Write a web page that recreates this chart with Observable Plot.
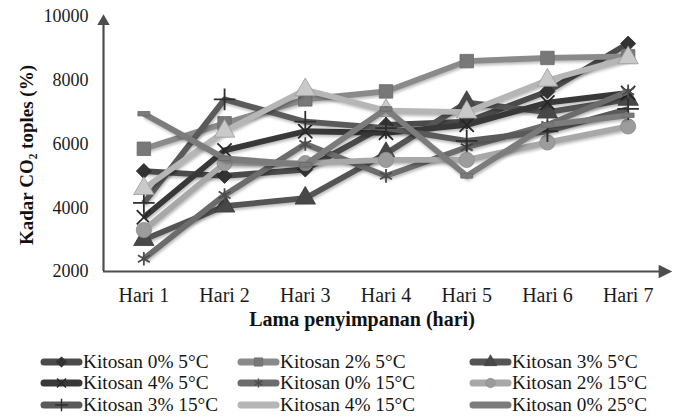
<!DOCTYPE html>
<html>
<head>
<meta charset="utf-8">
<script src="https://cdn.jsdelivr.net/npm/d3@7"></script>
<script src="https://cdn.jsdelivr.net/npm/@observablehq/plot@0.6"></script>
<style>
  html, body { margin: 0; padding: 0; background: #fff; }
  #wrap { width: 678px; height: 418px; position: relative; font-family: "Liberation Serif", "Times New Roman", serif; overflow: hidden; }
  #legend { position: relative; width: 678px; height: 78px; }
  .item { position: absolute; display: flex; align-items: center; font-size: 19.3px; color: #151515; white-space: nowrap; }
  .item svg { display: block; }
  .series-line { filter: drop-shadow(1px 2px 1.5px rgba(0,0,0,0.28)); }
</style>
</head>
<body>
<div id="wrap">
  <div id="chart"></div>
  <div id="legend"></div>
</div>
<script>
// ---- data ----
const days = ["Hari 1", "Hari 2", "Hari 3", "Hari 4", "Hari 5", "Hari 6", "Hari 7"];
const seriesNames = [
  "Kitosan 0% 5°C", "Kitosan 2% 5°C", "Kitosan 3% 5°C",
  "Kitosan 4% 5°C", "Kitosan 0% 15°C", "Kitosan 2% 15°C",
  "Kitosan 3% 15°C", "Kitosan 4% 15°C", "Kitosan 0% 25°C"
];
const k0_5  = [5150, 5000, 5200, 6600, 6700, 7650, 9150];
const k2_5  = [5850, 6650, 7400, 7650, 8600, 8700, 8750];
const k3_5  = [3000, 4050, 4300, 5700, 7300, 7000, 7400];
const k4_5  = [3700, 5800, 6400, 6350, 6600, 7300, 7600];
const k0_15 = [2400, 4400, 6000, 5000, 5900, 6600, 7650];
const k2_15 = [3300, 5400, 5400, 5500, 5500, 6050, 6550];
const k3_15 = [4150, 7400, 6700, 6500, 6100, 6400, 7100];
const k4_15 = [4600, 6400, 7700, 7050, 7000, 8000, 8700];
const k0_25 = [6950, 5550, 5350, 7100, 5000, 6600, 6900];
const seriesValues = [k0_5, k2_5, k3_5, k4_5, k0_15, k2_15, k3_15, k4_15, k0_25];
const yTicks = [2000, 4000, 6000, 8000, 10000];

// ---- styles ----
const dashSymbol = { draw(ctx, size) { const s = Math.sqrt(size); const w = s * 1.6, h = s * 0.6; ctx.rect(-w / 2, -h / 2, w, h); } };
const rightTri = { draw(ctx, size) { const s = Math.sqrt(size); ctx.moveTo(s * 0.9, 0); ctx.lineTo(-s * 0.5, -s * 0.7); ctx.lineTo(-s * 0.5, s * 0.7); ctx.closePath(); } };
const lineColors   = ["#4a4a4a", "#8a8a8a", "#555555", "#383838", "#6c6c6c", "#a8a8a8", "#5a5a5a", "#b6b6b6", "#7c7c7c"];
const markFill     = ["#333333", "#787878", "#484848", "none", "none", "#9c9c9c", "none", "#c9c9c9", "#7a7a7a"];
const markStroke   = ["#2a2a2a", "#6a6a6a", "#3c3c3c", "#262626", "#4c4c4c", "#8a8a8a", "#2e2e2e", "#9a9a9a", "#6a6a6a"];
const markSymbol   = ["diamond2", "square", "triangle", "times", "asterisk", "circle", "plus", "triangle", dashSymbol];
const markR        = [6.8, 7.6, 7.6, 6.5, 6.5, 7.6, 7.0, 7.6, 4.2];
const legendMarker = [true, true, true, true, true, true, true, false, false];

const rows = seriesValues.map((vals, i) => vals.map((v, j) => ({ series: seriesNames[i], day: j + 1, value: v })));

const marks = [];
// axes
marks.push(Plot.ruleX([0.5], { y1: 2000, y2: 9900, stroke: "#4d4d4d", strokeWidth: 2.2 }));
marks.push(Plot.ruleY([2000], { x1: 0.5, x2: 7.43, stroke: "#4d4d4d", strokeWidth: 2.2 }));
marks.push(Plot.dot([10000], { x: 0.5, y: d => d, symbol: "triangle", r: 4.6, fill: "#4d4d4d", dy: 5 }));
marks.push(Plot.dot([7.5], { x: d => d, y: 2000, symbol: rightTri, r: 5.5, fill: "#4d4d4d", dx: -5 }));

rows.forEach((r, i) => {
  marks.push(Plot.line(r, { x: "day", y: "value", stroke: lineColors[i], strokeWidth: 5.8, strokeLinejoin: "round", strokeLinecap: "butt", className: "series-line" }));
  marks.push(Plot.dot(r, { x: "day", y: "value", symbol: markSymbol[i], r: markR[i], fill: markFill[i], stroke: markStroke[i], strokeWidth: markFill[i] === "none" ? 1.8 : 0.8 }));
});

marks.push(Plot.text(["Lama penyimpanan (hari)"], { frameAnchor: "bottom", dy: 54, dx: -24, textAnchor: "middle", fontWeight: "bold", fontSize: 20, fill: "#111" }));
marks.push(Plot.text(["Kadar CO₂ toples (%)"], { frameAnchor: "left", dx: -77, dy: 11, textAnchor: "middle", rotate: -90, fontWeight: "bold", fontSize: 19, fill: "#111" }));

const chart = Plot.plot({
  width: 678,
  height: 340,
  marginLeft: 103,
  marginRight: 10,
  marginTop: 16,
  marginBottom: 69,
  style: { fontFamily: "Liberation Serif, Times New Roman, serif", fontSize: "18px", color: "#1a1a1a", background: "white", overflow: "visible" },
  x: { domain: [0.5, 7.5], ticks: days.map((d, i) => i + 1), tickFormat: d => days[d - 1], tickSize: 0, tickPadding: 16, label: null, line: false },
  y: { domain: [2000, 10000], ticks: yTicks, tickFormat: d => String(d), tickSize: 0, tickPadding: 15, label: null, line: false },
  marks
});
chart.querySelectorAll('[aria-label="x-axis tick label"] text').forEach(t => t.setAttribute("font-size", "20"));
document.getElementById("chart").appendChild(chart);

// ---- legend ----
const legend = d3.select("#legend");
const colX = [40, 237, 469];
const rowY = [22, 43, 65];
seriesNames.forEach((name, i) => {
  const col = i % 3, row = Math.floor(i / 3);
  const item = legend.append("div").attr("class", "item")
    .style("left", colX[col] + "px").style("top", (rowY[row] - 11) + "px").style("height", "22px");
  const svg = item.append("svg").attr("width", 43).attr("height", 22);
  svg.append("line").attr("x1", 4).attr("x2", 39).attr("y1", 11).attr("y2", 11)
    .attr("stroke", lineColors[i]).attr("stroke-width", 7).attr("stroke-linecap", "round");
  if (legendMarker[i]) {
    const sym = { diamond2: d3.symbolDiamond2, square: d3.symbolSquare, triangle: d3.symbolTriangle, times: d3.symbolTimes, asterisk: d3.symbolAsterisk, circle: d3.symbolCircle, plus: d3.symbolPlus }[markSymbol[i]];
    const filled = markFill[i] !== "none";
    svg.append("path").attr("transform", "translate(21.5,11)")
      .attr("d", d3.symbol(sym, filled ? 70 : 55)())
      .attr("fill", filled ? markFill[i] : "none")
      .attr("stroke", markStroke[i]).attr("stroke-width", filled ? 0.6 : 1.4);
  }
  item.append("span").text(name);
});
</script>
</body>
</html>
